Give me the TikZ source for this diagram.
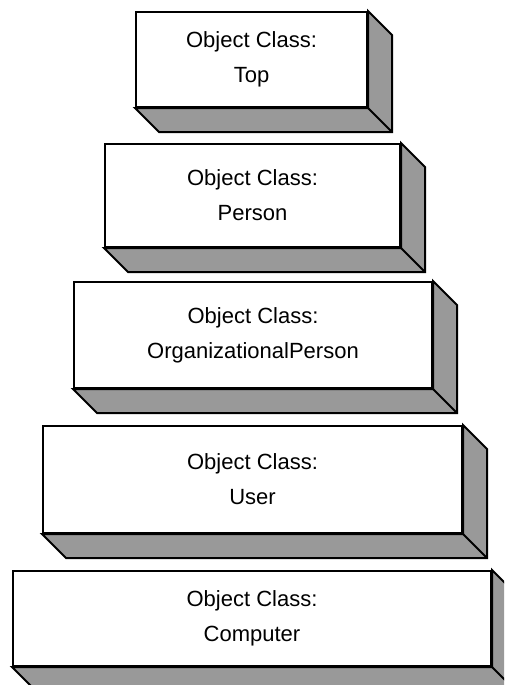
\documentclass[tikz,border=0pt]{standalone}
\usepackage{fontspec}
\setmainfont{Liberation Sans}
\tikzset{
  classbox/.style={rectangle, draw, fill=white, line width=2pt, align=center,
    font=\fontsize{22}{35}\selectfont, inner sep=0pt},
  depthface/.style={draw, fill=black!40, line width=2pt, line join=miter}
}
% side and bottom face of a class box, offset down and to the right
\newcommand{\boxdepth}[1]{%
  \draw[depthface] (#1.north east) -- ++(24,24) -- ([shift={(24pt,-24pt)}]#1.south east)
    -- ([shift={(24pt,-24pt)}]#1.south west) -- (#1.south west) -- (#1.south east) -- cycle;
  \draw[line width=2pt] (#1.south east) -- ++(24,24);
}
\begin{document}
\begin{tikzpicture}[x=1pt, y=-1pt]
        \clip (0,0) rectangle (504,685);
        \node[classbox, minimum width=231pt, minimum height=95pt] (top) at (251.5, 59.5) {Object Class:\\Top};
        \node[classbox, minimum width=295pt, minimum height=103pt] (person) at (252.5, 195.5) {Object Class:\\Person};
        \node[classbox, minimum width=358pt, minimum height=106pt] (orgperson) at (253, 335) {Object Class:\\OrganizationalPerson};
        \node[classbox, minimum width=419pt, minimum height=107pt] (user) at (252.5, 479.5) {Object Class:\\User};
        \node[classbox, minimum width=478pt, minimum height=95pt] (computer) at (252, 618.5) {Object Class:\\Computer};
        \boxdepth{top}
        \boxdepth{person}
        \boxdepth{orgperson}
        \boxdepth{user}
        \boxdepth{computer}
    \end{tikzpicture}
\end{document}
